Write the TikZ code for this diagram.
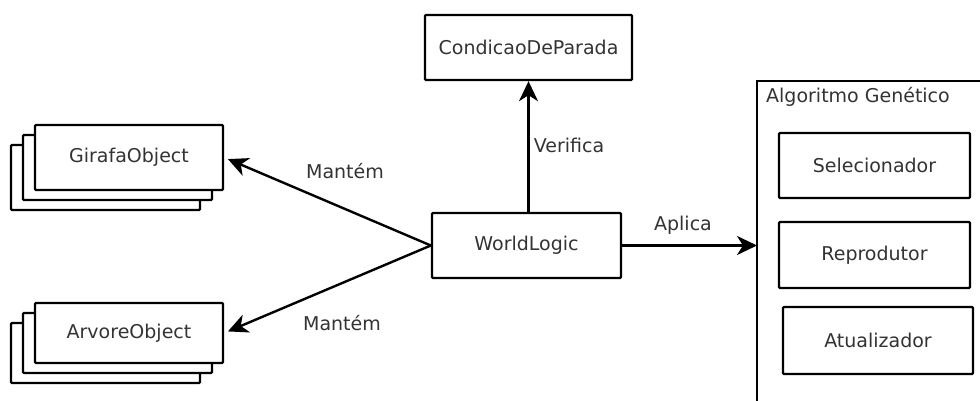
\documentclass[tikz,border=0pt]{standalone}
\usepackage{fontspec}
\setmainfont{DejaVu Sans}
\usetikzlibrary{arrows.meta}

\tikzset{
  caixa/.style={draw, line width=2.4pt, fill=white, rounded corners=1pt,
    inner sep=0pt, text=black!80, font=\fontsize{19}{22}\selectfont},
  rotulo/.style={inner sep=0pt, text=black!80, font=\fontsize{19}{22}\selectfont},
  liga/.style={line width=2.4pt, -{Stealth[length=20pt,width=19pt,inset=6pt]}}
}

\begin{document}
\begin{tikzpicture}[x=1pt, y=-1pt]
\useasboundingbox (0,0) rectangle (980,401);

% pilhas de objetos (copias atras)
\node[caixa, minimum width=189pt, minimum height=65pt] at (105.5,177.5) {};
\node[caixa, minimum width=189pt, minimum height=65pt] at (117.5,167.5) {};
\node[caixa, minimum width=188pt, minimum height=65pt] (girafa) at (129,157.5) {GirafaObject};

\node[caixa, minimum width=189pt, minimum height=60pt] at (105.5,353) {};
\node[caixa, minimum width=189pt, minimum height=60pt] at (117.5,343) {};
\node[caixa, minimum width=188pt, minimum height=60pt] (arvore) at (129,333) {ArvoreObject};

% centro
\node[caixa, minimum width=189pt, minimum height=65pt] (world) at (526.5,245.5) {WorldLogic};
\node[caixa, minimum width=207pt, minimum height=65pt] (parada) at (528.5,47.5) {CondicaoDeParada};

% algoritmo genetico
\draw[line width=2.4pt] (757,401) -- (757,81) -- (980,81);
\coordinate (ag) at (757,245.5);
\node[rotulo, anchor=west] (agtit) at (766,97) {Algoritmo Genético};
\node[caixa, minimum width=191pt, minimum height=65pt] (selec) at (874.5,165.5) {Selecionador};
\node[caixa, minimum width=191pt, minimum height=66pt] (repro) at (874.5,255) {Reprodutor};
\node[caixa, minimum width=190pt, minimum height=67pt] (atual) at (878,340.5) {Atualizador};

% ligacoes
\draw[liga] (world.north -| parada.south) -- (parada.south);
\draw[liga] (world.east) -- (ag);
\draw[liga, shorten >=4pt] (world.west) -- (girafa.east);
\draw[liga, shorten >=4pt] (world.west) -- (arvore.east);

\node[rotulo] (verifica) at (569,145) {Verifica};
\node[rotulo] (aplica) at (683,225) {Aplica};
\node[rotulo] (mantem1) at (345,171) {Mantém};
\node[rotulo] (mantem2) at (342,323) {Mantém};

\end{tikzpicture}
\end{document}
